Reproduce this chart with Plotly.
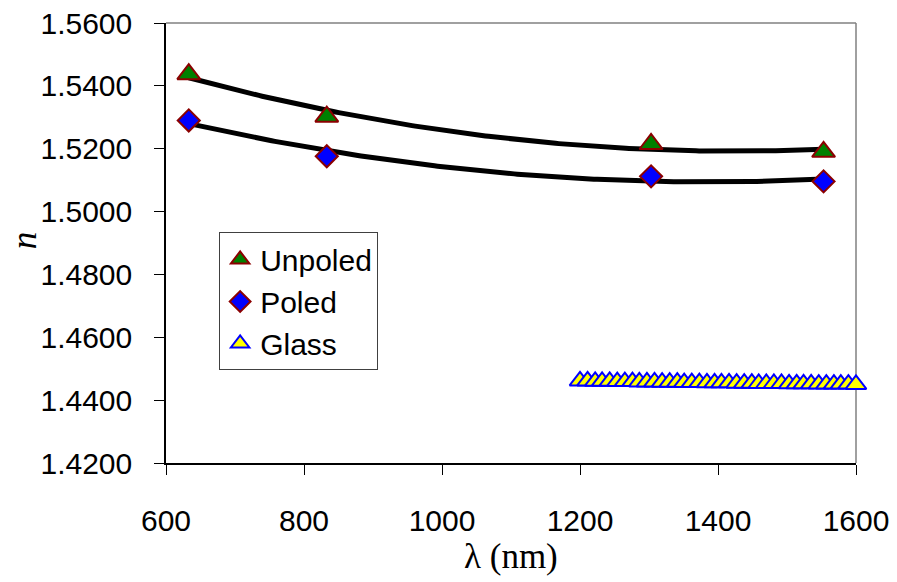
import numpy as np
import plotly.graph_objects as go

# ---- data ----
unpoled_x = [633, 833, 1303, 1553]
unpoled_n = [1.5437, 1.5302, 1.5215, 1.5190]

poled_x = [633, 833, 1303, 1553]
poled_n = [1.5290, 1.5176, 1.5112, 1.5096]

glass_x = [1200, 1211, 1222, 1232, 1243, 1254, 1265, 1276, 1286, 1297,
           1308, 1319, 1330, 1341, 1351, 1362, 1373, 1384, 1395, 1405,
           1416, 1427, 1438, 1449, 1459, 1470, 1481, 1492, 1503, 1514,
           1524, 1535, 1546, 1557, 1568, 1578, 1589, 1600]
glass_n = [1.4461, 1.4461, 1.4460, 1.4460, 1.4460, 1.4459, 1.4459, 1.4459, 1.4458, 1.4458,
           1.4458, 1.4457, 1.4457, 1.4457, 1.4456, 1.4456, 1.4456, 1.4455, 1.4455, 1.4455,
           1.4455, 1.4454, 1.4454, 1.4454, 1.4453, 1.4453, 1.4453, 1.4453, 1.4452, 1.4452,
           1.4452, 1.4452, 1.4451, 1.4451, 1.4451, 1.4451, 1.4451, 1.4450]

x_ticks = [600, 800, 1000, 1200, 1400, 1600]
y_ticks = [1.42, 1.44, 1.46, 1.48, 1.50, 1.52, 1.54, 1.56]

x_title = "λ (nm)"
y_title = "<i>n</i>"

# ---- 2nd-order polynomial trendlines (as in the original) ----
def trend(xs, ys):
    c = np.polyfit(xs, ys, 2)
    xx = np.linspace(min(xs), max(xs), 200)
    return xx, np.polyval(c, xx)

tu_x, tu_y = trend(unpoled_x, unpoled_n)
tp_x, tp_y = trend(poled_x, poled_n)

FONT = "Liberation Sans, Arial, sans-serif"
SERIF = "Liberation Serif, Times New Roman, serif"

fig = go.Figure()

fig.add_trace(go.Scatter(
    x=glass_x, y=glass_n, mode="markers", name="Glass", cliponaxis=False,
    marker=dict(symbol="triangle-up", size=18, color="#ffff00",
                line=dict(color="#0000ff", width=2)),
    legendrank=3, legendgroup="g"))

fig.add_trace(go.Scatter(x=tu_x, y=tu_y, mode="lines", showlegend=False,
                         line=dict(color="black", width=5), hoverinfo="skip"))
fig.add_trace(go.Scatter(x=tp_x, y=tp_y, mode="lines", showlegend=False,
                         line=dict(color="black", width=5), hoverinfo="skip"))

fig.add_trace(go.Scatter(
    x=unpoled_x, y=unpoled_n, mode="markers", name="Unpoled", cliponaxis=False,
    marker=dict(symbol="triangle-up", size=20, color="#008000",
                line=dict(color="#8b0000", width=2)),
    legendrank=1, legendgroup="u"))

fig.add_trace(go.Scatter(
    x=poled_x, y=poled_n, mode="markers", name="Poled", cliponaxis=False,
    marker=dict(symbol="diamond", size=17, color="#0000ff",
                line=dict(color="#8b0000", width=2)),
    legendrank=2, legendgroup="p"))

fig.update_layout(
    width=897, height=582,
    margin=dict(l=166, r=41, t=23, b=119),
    paper_bgcolor="white", plot_bgcolor="white",
    font=dict(family=FONT, size=30, color="black"),
    showlegend=True,
    legend=dict(x=0.077, y=0.524, xanchor="left", yanchor="top",
                bgcolor="white", bordercolor="#404040", borderwidth=1,
                font=dict(family=FONT, size=30, color="black"),
                traceorder="grouped", tracegroupgap=0,
                itemsizing="trace"),
    shapes=[
        dict(type="line", xref="paper", yref="paper", x0=0, x1=1, y0=1, y1=1,
             line=dict(color="#808080", width=1.5), layer="below"),
        dict(type="line", xref="paper", yref="paper", x0=1, x1=1, y0=0, y1=1,
             line=dict(color="#808080", width=1.5), layer="below"),
    ],
    annotations=[
        dict(text=x_title, xref="paper", yref="paper", x=0.5, y=-0.212,
             xanchor="center", yanchor="middle", showarrow=False, borderpad=0,
             font=dict(family=SERIF, size=35, color="black")),
        dict(text=y_title, xref="paper", yref="paper", x=-0.206, y=0.506,
             xanchor="center", yanchor="middle", showarrow=False, textangle=-90,
             borderpad=0,
             font=dict(family=SERIF, size=35, color="black")),
    ],
)

fig.update_xaxes(
    range=[600, 1600], tickvals=x_ticks, ticktext=[str(v) for v in x_ticks],
    automargin=False,
    showgrid=False, zeroline=False, showline=True, linecolor="black", linewidth=1.5,
    ticks="outside", ticklen=10, tickcolor="black", tickwidth=1,
    ticklabelstandoff=20,
    tickfont=dict(family=FONT, size=30, color="black"),
)
fig.update_yaxes(
    range=[1.42, 1.56], tickvals=y_ticks, ticktext=[f"{v:.4f}" for v in y_ticks],
    automargin=False,
    showgrid=False, zeroline=False, showline=True, linecolor="black", linewidth=1.5,
    ticks="outside", ticklen=10, tickcolor="black", tickwidth=1,
    ticklabelstandoff=16,
    tickfont=dict(family=FONT, size=30, color="black"),
)

fig.write_html("out.html")
